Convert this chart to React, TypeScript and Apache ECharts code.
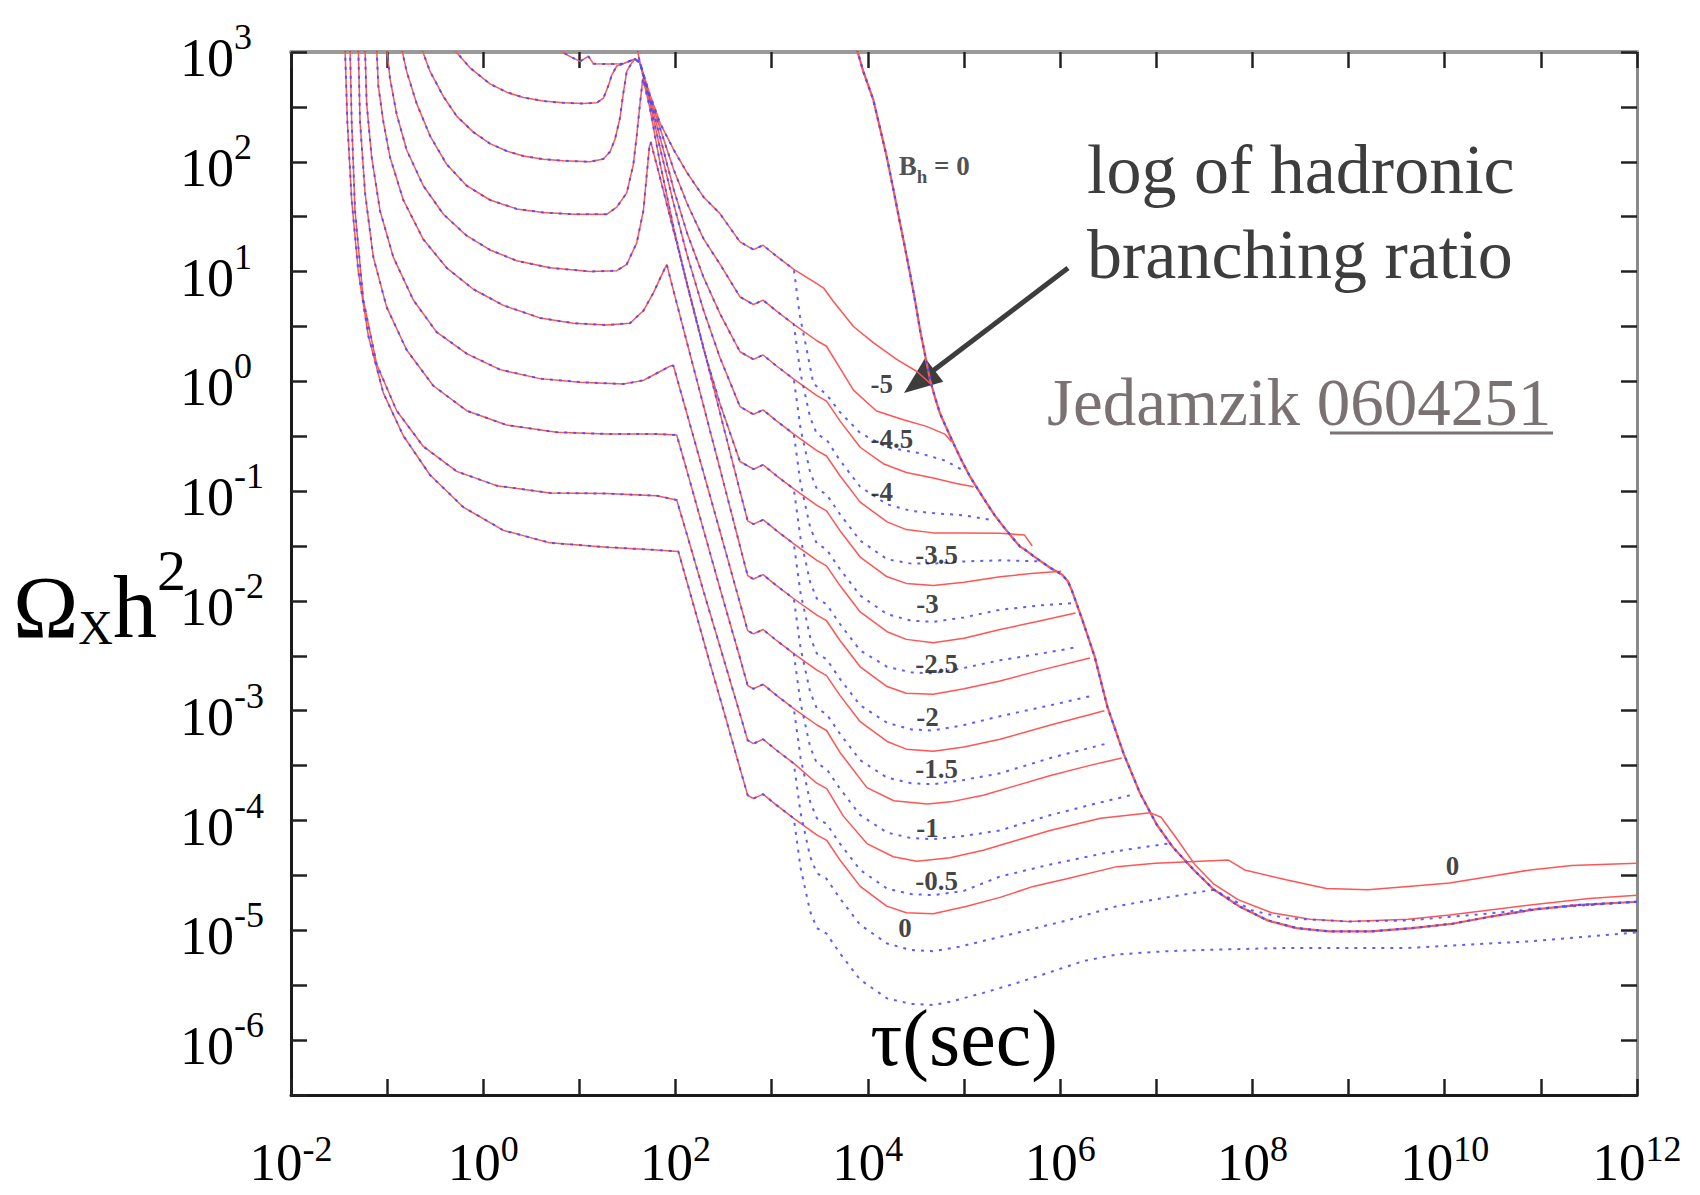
import React, { useEffect, useRef } from 'react';
import * as echarts from 'echarts';

// All curve data are [log10(tau / sec), log10(Omega_x h^2)] pairs.

// ---- B_h = 0 curve (upper envelope) ----
const envelopeBh0: number[][] = [
  [3.884, 3.03], [3.95, 2.83], [4.057, 2.563], [4.12, 2.33], [4.196, 2.047], [4.265, 1.75], [4.335, 1.44],
  [4.39, 1.2], [4.439, 0.98], [4.49, 0.74], [4.543, 0.468], [4.6, 0.22], [4.647, 0.013], [4.7, -0.15],
  [4.75, -0.291], [4.82, -0.43], [4.89, -0.564], [4.98, -0.73], [5.063, -0.868], [5.15, -0.99], [5.236, -1.11],
  [5.32, -1.22], [5.41, -1.323], [5.5, -1.42], [5.583, -1.505], [5.63, -1.53], [5.72, -1.59], [5.8, -1.64],
  [5.9, -1.7], [6.02, -1.76], [6.08, -1.82], [6.12, -1.9], [6.23, -2.17], [6.36, -2.51], [6.49, -2.96],
  [6.66, -3.39], [6.83, -3.75], [7.0, -4.03], [7.17, -4.24], [7.39, -4.45], [7.6, -4.63], [7.86, -4.78],
  [8.16, -4.91], [8.46, -4.98], [8.8, -5.01], [9.23, -5.01], [9.66, -4.98], [10.08, -4.94], [10.51, -4.87],
  [10.94, -4.81], [11.37, -4.77], [12.0, -4.74],
];

// ---- common part (solid and dotted coincide) for each log10 B_h ----
const sharedM50 = [[1.6, 3.03], [1.63, 2.9], [1.73, 2.62], [1.84, 2.35], [1.98, 2.11], [2.12, 1.9], [2.29, 1.68], [2.46, 1.53], [2.67, 1.27], [2.81, 1.2], [2.91, 1.24], [3.05, 1.14], [3.23, 1.02]];
const sharedM45 = [[0.763, 3.03], [0.9, 2.96], [1.006, 2.914], [1.093, 2.96], [1.145, 2.894], [1.3, 2.89], [1.457, 2.894], [1.578, 2.937], [1.63, 2.9], [1.73, 2.6], [1.84, 2.3], [1.98, 1.93], [2.12, 1.62], [2.29, 1.3], [2.46, 1.07], [2.67, 0.77], [2.81, 0.7], [2.91, 0.74], [3.05, 0.64], [3.23, 0.52]];
const sharedM40 = [[-0.311, 3.03], [-0.138, 2.856], [0.07, 2.709], [0.243, 2.634], [0.417, 2.586], [0.625, 2.553], [0.833, 2.537], [1.041, 2.53], [1.179, 2.537], [1.249, 2.579], [1.301, 2.693], [1.336, 2.79], [1.388, 2.872], [1.457, 2.894], [1.578, 2.937], [1.63, 2.9], [1.73, 2.58], [1.84, 2.22], [1.98, 1.75], [2.12, 1.35], [2.29, 0.95], [2.46, 0.62], [2.67, 0.27], [2.81, 0.2], [2.91, 0.24], [3.05, 0.14], [3.23, 0.02]];
const sharedM35 = [[-0.641, 3.03], [-0.554, 2.823], [-0.415, 2.595], [-0.277, 2.416], [-0.103, 2.27], [0.07, 2.166], [0.243, 2.098], [0.417, 2.052], [0.625, 2.023], [0.833, 2.01], [1.11, 2.0], [1.249, 2.026], [1.318, 2.091], [1.37, 2.205], [1.422, 2.4], [1.457, 2.628], [1.492, 2.823], [1.544, 2.9], [1.578, 2.937], [1.63, 2.9], [1.73, 2.55], [1.84, 2.12], [1.98, 1.62], [2.12, 1.15], [2.29, 0.65], [2.46, 0.22], [2.67, -0.23], [2.81, -0.3], [2.91, -0.26], [3.05, -0.36], [3.23, -0.48]];
const sharedM30 = [[-0.849, 3.03], [-0.797, 2.823], [-0.693, 2.53], [-0.554, 2.237], [-0.381, 1.977], [-0.173, 1.782], [0.07, 1.652], [0.347, 1.571], [0.625, 1.538], [0.937, 1.522], [1.283, 1.522], [1.388, 1.587], [1.492, 1.717], [1.561, 1.977], [1.596, 2.237], [1.63, 2.53], [1.66, 2.76], [1.73, 2.5], [1.84, 1.98], [1.98, 1.4], [2.12, 0.88], [2.29, 0.3], [2.46, -0.2], [2.67, -0.73], [2.81, -0.8], [2.91, -0.76], [3.05, -0.86], [3.23, -0.98]];
const sharedM25 = [[-1.005, 3.03], [-0.97, 2.758], [-0.901, 2.433], [-0.797, 2.107], [-0.624, 1.782], [-0.415, 1.522], [-0.173, 1.327], [0.07, 1.197], [0.347, 1.099], [0.694, 1.034], [1.11, 1.001], [1.388, 1.008], [1.492, 1.066], [1.596, 1.262], [1.665, 1.554], [1.7, 1.88], [1.728, 2.14], [1.742, 2.18], [1.84, 1.85], [1.98, 1.37], [2.12, 0.89], [2.29, 0.31], [2.46, -0.28], [2.67, -1.0], [2.75, -1.27], [2.81, -1.3], [2.91, -1.26], [3.05, -1.36], [3.23, -1.48]];
const sharedM20 = [[-1.109, 3.03], [-1.092, 2.693], [-1.04, 2.368], [-0.97, 2.042], [-0.832, 1.652], [-0.624, 1.294], [-0.381, 1.034], [-0.103, 0.839], [0.209, 0.692], [0.59, 0.578], [0.937, 0.53], [1.283, 0.513], [1.526, 0.53], [1.665, 0.643], [1.769, 0.806], [1.838, 0.936], [1.908, 1.066], [1.98, 0.82], [2.12, 0.35], [2.29, -0.22], [2.46, -0.79], [2.67, -1.5], [2.75, -1.77], [2.81, -1.8], [2.91, -1.76], [3.05, -1.86], [3.23, -1.98]];
const sharedM15 = [[-1.23, 3.03], [-1.213, 2.53], [-1.161, 2.042], [-1.074, 1.554], [-0.936, 1.132], [-0.728, 0.741], [-0.485, 0.448], [-0.173, 0.253], [0.174, 0.107], [0.59, 0.025], [1.006, -0.007], [1.457, -0.024], [1.665, 0.009], [1.804, 0.074], [1.943, 0.139], [1.977, 0.145], [2.12, -0.3], [2.29, -0.83], [2.46, -1.36], [2.67, -2.02], [2.75, -2.27], [2.81, -2.3], [2.91, -2.26], [3.05, -2.36], [3.23, -2.48]];
const sharedM10 = [[-1.3, 3.03], [-1.282, 2.368], [-1.23, 1.717], [-1.144, 1.132], [-1.005, 0.676], [-0.797, 0.286], [-0.52, -0.04], [-0.173, -0.267], [0.243, -0.398], [0.763, -0.463], [1.283, -0.479], [1.804, -0.479], [2.012, -0.489], [2.12, -0.82], [2.29, -1.35], [2.46, -1.88], [2.67, -2.52], [2.75, -2.77], [2.81, -2.8], [2.91, -2.76], [3.05, -2.86], [3.23, -2.98]];
const sharedM05 = [[-1.386, 3.03], [-1.369, 2.368], [-1.334, 1.554], [-1.248, 0.741], [-1.109, 0.156], [-0.901, -0.267], [-0.624, -0.593], [-0.277, -0.82], [0.139, -0.95], [0.694, -1.016], [1.283, -1.022], [1.804, -1.042], [2.012, -1.081], [2.12, -1.4], [2.29, -1.91], [2.46, -2.41], [2.67, -3.03], [2.75, -3.27], [2.81, -3.3], [2.91, -3.26], [3.05, -3.36], [3.23, -3.48]];
const shared00 = [[-1.438, 3.03], [-1.414, 2.368], [-1.369, 1.652], [-1.3, 1.001], [-1.196, 0.416], [-1.04, -0.105], [-0.832, -0.495], [-0.554, -0.853], [-0.207, -1.146], [0.209, -1.357], [0.694, -1.471], [1.283, -1.51], [1.804, -1.536], [2.029, -1.55], [2.22, -2.14], [2.358, -2.57], [2.497, -2.99], [2.6, -3.31], [2.75, -3.77], [2.81, -3.8], [2.91, -3.76], [3.05, -3.86], [3.23, -3.98]];

// ---- solid (red) continuation ----
const redTailM50 = [[3.47, 0.89], [3.54, 0.85], [3.64, 0.73], [3.85, 0.5], [4.06, 0.35], [4.3, 0.2], [4.51, 0.09], [4.65, -0.02]];
const redTailM45 = [[3.47, 0.37], [3.57, 0.32], [3.71, 0.12], [3.85, -0.08], [4.09, -0.27], [4.37, -0.35], [4.61, -0.41], [4.8, -0.48], [4.87, -0.55]];
const redTailM40 = [[3.47, -0.13], [3.57, -0.18], [3.71, -0.36], [3.92, -0.6], [4.16, -0.75], [4.4, -0.83], [4.68, -0.88], [4.92, -0.93], [5.1, -0.96]];
const redTailM35 = [[3.47, -0.63], [3.57, -0.68], [3.71, -0.86], [3.92, -1.1], [4.2, -1.28], [4.4, -1.35], [4.68, -1.38], [5.0, -1.38], [5.375, -1.384], [5.63, -1.4], [5.71, -1.5]];
const redTailM30 = [[3.47, -1.13], [3.57, -1.18], [3.71, -1.36], [3.92, -1.6], [4.2, -1.78], [4.4, -1.84], [4.68, -1.86], [5.0, -1.83], [5.375, -1.78], [5.7, -1.75], [6.01, -1.73]];
const redTailM25 = [[3.47, -1.63], [3.57, -1.68], [3.71, -1.86], [3.92, -2.1], [4.2, -2.28], [4.4, -2.35], [4.68, -2.38], [5.0, -2.34], [5.375, -2.26], [5.75, -2.19], [6.16, -2.11]];
const redTailM20 = [[3.47, -2.13], [3.57, -2.18], [3.71, -2.36], [3.92, -2.6], [4.2, -2.78], [4.4, -2.84], [4.68, -2.85], [5.0, -2.8], [5.375, -2.73], [5.8, -2.63], [6.31, -2.52]];
const redTailM15 = [[3.47, -2.63], [3.57, -2.68], [3.71, -2.86], [3.92, -3.1], [4.2, -3.28], [4.4, -3.35], [4.68, -3.37], [5.0, -3.33], [5.375, -3.26], [5.9, -3.13], [6.46, -3.0]];
const redTailM10 = [[3.47, -3.13], [3.57, -3.18], [3.71, -3.38], [3.99, -3.7], [4.27, -3.82], [4.62, -3.85], [4.86, -3.83], [5.2, -3.77], [5.55, -3.68], [5.9, -3.59], [6.3, -3.5], [6.64, -3.43]];
const redTailM05 = [[3.468, -3.66], [3.572, -3.71], [3.745, -3.96], [3.99, -4.21], [4.265, -4.33], [4.51, -4.37], [4.855, -4.34], [5.2, -4.27], [5.55, -4.18], [5.895, -4.09], [6.42, -3.98], [6.94, -3.93], [7.05, -3.97], [7.2, -4.15], [7.4, -4.4], [7.6, -4.58], [7.85, -4.72], [8.2, -4.84], [8.6, -4.9], [9.0, -4.92], [9.62, -4.9], [10.05, -4.86], [10.89, -4.77], [11.5, -4.71], [12.0, -4.68]];
const redTail00 = [[3.468, -4.13], [3.572, -4.18], [3.71, -4.36], [3.92, -4.6], [4.196, -4.78], [4.4, -4.84], [4.68, -4.85], [5.03, -4.78], [5.375, -4.7], [5.72, -4.6], [6.07, -4.53], [6.59, -4.42], [6.99, -4.39], [7.75, -4.36], [7.92, -4.45], [8.35, -4.54], [8.77, -4.62], [9.2, -4.63], [9.62, -4.6], [10.05, -4.57], [10.47, -4.51], [10.89, -4.45], [11.32, -4.41], [12.0, -4.39]];

// ---- dotted (blue) continuation ----
const blueTailM50 = [[3.294, 0.59], [3.364, 0.29], [3.433, -0.02], [3.57, -0.12], [3.71, -0.28], [3.92, -0.47], [4.2, -0.6], [4.54, -0.655], [4.8, -0.72], [4.99, -0.81]];
const blueTailM45 = [[3.3, 0.07], [3.4, -0.33], [3.47, -0.48], [3.57, -0.53], [3.71, -0.72], [3.92, -0.96], [4.2, -1.12], [4.45, -1.18], [4.68, -1.2], [5.0, -1.22], [5.27, -1.26]];
const blueTailM40 = [[3.3, -0.43], [3.4, -0.83], [3.47, -0.98], [3.57, -1.03], [3.71, -1.21], [3.92, -1.45], [4.2, -1.62], [4.45, -1.66], [4.68, -1.66], [5.0, -1.64], [5.375, -1.63], [5.8, -1.64]];
const blueTailM35 = [[3.3, -0.93], [3.4, -1.33], [3.47, -1.48], [3.57, -1.53], [3.71, -1.71], [3.92, -1.95], [4.2, -2.12], [4.45, -2.18], [4.68, -2.19], [5.0, -2.15], [5.375, -2.08], [5.8, -2.04], [6.14, -2.02]];
const blueTailM30 = [[3.3, -1.43], [3.4, -1.83], [3.47, -1.98], [3.57, -2.03], [3.71, -2.21], [3.92, -2.45], [4.2, -2.6], [4.45, -2.65], [4.68, -2.66], [5.0, -2.61], [5.375, -2.54], [5.8, -2.48], [6.18, -2.42]];
const blueTailM25 = [[3.3, -1.93], [3.4, -2.33], [3.47, -2.48], [3.57, -2.53], [3.71, -2.71], [3.92, -2.95], [4.2, -3.11], [4.45, -3.17], [4.68, -3.18], [5.0, -3.13], [5.375, -3.05], [5.9, -2.95], [6.35, -2.86]];
const blueTailM20 = [[3.3, -2.43], [3.4, -2.83], [3.47, -2.98], [3.57, -3.03], [3.71, -3.21], [3.92, -3.45], [4.2, -3.61], [4.45, -3.66], [4.68, -3.67], [5.0, -3.63], [5.375, -3.57], [5.9, -3.43], [6.48, -3.3]];
const blueTailM15 = [[3.3, -2.93], [3.4, -3.33], [3.47, -3.48], [3.57, -3.53], [3.71, -3.71], [3.92, -3.95], [4.2, -4.11], [4.45, -4.16], [4.68, -4.17], [5.0, -4.14], [5.375, -4.09], [5.9, -3.95], [6.35, -3.85], [6.73, -3.77]];
const blueTailM10 = [[3.3, -3.43], [3.4, -3.83], [3.47, -3.98], [3.57, -4.03], [3.71, -4.21], [3.92, -4.45], [4.2, -4.62], [4.45, -4.67], [4.68, -4.68], [5.0, -4.64], [5.375, -4.51], [5.9, -4.4], [6.5, -4.29], [7.12, -4.21]];
const blueTailM05 = [[3.3, -3.93], [3.4, -4.33], [3.47, -4.48], [3.57, -4.53], [3.71, -4.71], [3.92, -4.95], [4.2, -5.12], [4.45, -5.18], [4.68, -5.19], [4.95, -5.15], [5.375, -5.06], [6.07, -4.91], [6.59, -4.78], [7.11, -4.7], [7.6, -4.63], [8.0, -4.82], [8.35, -4.89], [9.0, -4.92], [9.62, -4.91], [10.3, -4.86], [11.0, -4.8], [12.0, -4.74]];
const blueTail00 = [[3.3, -4.43], [3.4, -4.83], [3.47, -4.98], [3.57, -5.03], [3.71, -5.21], [3.92, -5.45], [4.2, -5.62], [4.45, -5.67], [4.68, -5.68], [4.86, -5.65], [5.2, -5.57], [5.55, -5.48], [5.9, -5.38], [6.24, -5.28], [6.59, -5.22], [7.11, -5.19], [7.46, -5.18], [8.35, -5.16], [9.62, -5.16], [10.89, -5.1], [12.0, -5.02]];

const logBh = ['-5', '-4.5', '-4', '-3.5', '-3', '-2.5', '-2', '-1.5', '-1', '-0.5', '0'];
const sharedParts = [sharedM50, sharedM45, sharedM40, sharedM35, sharedM30, sharedM25, sharedM20, sharedM15, sharedM10, sharedM05, shared00];
const redTails = [redTailM50, redTailM45, redTailM40, redTailM35, redTailM30, redTailM25, redTailM20, redTailM15, redTailM10, redTailM05, redTail00];
const blueTails = [blueTailM50, blueTailM45, blueTailM40, blueTailM35, blueTailM30, blueTailM25, blueTailM20, blueTailM15, blueTailM10, blueTailM05, blueTail00];

// curve labels (log10 B_h) and their positions
const curveLabelText = ['-5', '-4.5', '-4', '-3.5', '-3', '-2.5', '-2', '-1.5', '-1', '-0.5', '0', '0'];
const curveLabelX = [4.145, 4.25, 4.145, 4.716, 4.62, 4.716, 4.62, 4.716, 4.62, 4.716, 4.386, 10.08];
const curveLabelY = [-0.025, -0.525, -1.005, -1.586, -2.03, -2.574, -3.06, -3.53, -4.067, -4.554, -4.976, -4.41];

// axes
const xMin = -2, xMax = 12, xStep = 1;
const yMin = -6.5, yMax = 3, yStep = 0.5;

const FONT = '"Liberation Serif", "Times New Roman", Times, serif';
const RED = '#ff5555';
const BLUE = '#4b4bff';

const yRich = {
  b: { fontSize: 54, fontFamily: FONT, color: '#000', lineHeight: 66, verticalAlign: 'bottom' },
  s: { fontSize: 36, fontFamily: FONT, color: '#000', lineHeight: 66, verticalAlign: 'top' },
};
const xRich = {
  b: { fontSize: 53, fontFamily: FONT, color: '#000', lineHeight: 57, verticalAlign: 'bottom' },
  s: { fontSize: 36, fontFamily: FONT, color: '#000', lineHeight: 57, verticalAlign: 'top' },
};

function powLabel(v: number, every: number): string {
  const r = Math.round(v);
  if (Math.abs(v - r) > 1e-6) return '';
  if (((r % every) + every) % every !== 0) return '';
  return `{b|10}{s|${r}}`;
}

function buildOption() {
  const series: any[] = [];
  sharedParts.forEach((sh, i) => {
    series.push({
      type: 'line', name: `solid log Bh=${logBh[i]}`, data: [...sh, ...redTails[i]],
      showSymbol: false, silent: true, z: 2,
      lineStyle: { color: RED, width: 1.5 },
    });
  });
  series.push({
    type: 'line', name: 'solid Bh=0', data: envelopeBh0, showSymbol: false, silent: true, z: 2,
    lineStyle: { color: RED, width: 2.2 },
  });
  sharedParts.forEach((sh, i) => {
    series.push({
      type: 'line', name: `dotted log Bh=${logBh[i]}`, data: [...sh, ...blueTails[i]],
      showSymbol: false, silent: true, z: 3,
      lineStyle: { color: BLUE, width: 2, type: [3, 6], opacity: 0.9 },
    });
  });
  series.push({
    type: 'line', name: 'dotted Bh=0', data: envelopeBh0, showSymbol: false, silent: true, z: 3,
    lineStyle: { color: BLUE, width: 2.2, type: [3, 5] },
  });
  series.push({
    type: 'scatter', name: 'labels', symbolSize: 0, silent: true, z: 5,
    data: curveLabelText.map((t, i) => ({ name: t, value: [curveLabelX[i], curveLabelY[i]] })),
    label: {
      show: true, position: 'inside', formatter: '{b}',
      fontFamily: FONT, fontSize: 27, fontWeight: 'bold', color: '#111',
    },
  });
  series.push({
    type: 'scatter', name: 'Bh label', symbolSize: 0, silent: true, z: 5,
    data: [{ name: 'Bh=0', value: [4.69, 1.98] }],
    label: {
      show: true, position: 'inside', formatter: '{m|B}{s|h}{m| = 0}',
      rich: {
        m: { fontFamily: FONT, fontSize: 27, fontWeight: 'bold', color: '#222', verticalAlign: 'bottom', lineHeight: 32 },
        s: { fontFamily: FONT, fontSize: 19, fontWeight: 'bold', color: '#222', verticalAlign: 'bottom', lineHeight: 32, padding: [0, 0, -6, 0] },
      },
    },
  });

  const tick = { inside: true, length: 16, lineStyle: { color: '#222', width: 2.5 } };

  return {
    animation: false,
    backgroundColor: '#fff',
    grid: { left: 291, top: 52, right: 63, bottom: 100, containLabel: false },
    xAxis: [
      {
        type: 'value', position: 'bottom', min: xMin, max: xMax, interval: xStep,
        axisLine: { onZero: false, lineStyle: { color: '#1a1a1a', width: 3 } },
        axisTick: tick, splitLine: { show: false },
        axisLabel: { margin: 36, formatter: (v: number) => powLabel(v, 2), rich: xRich, showMinLabel: true, showMaxLabel: true },
        name: 'τ(sec)', nameLocation: 'middle', nameGap: -57, nameMoveOverlap: false,
        nameTextStyle: { fontFamily: FONT, fontSize: 80, color: '#000', verticalAlign: 'middle', align: 'center' },
      },
      {
        type: 'value', position: 'top', min: xMin, max: xMax, interval: xStep,
        axisLine: { onZero: false, lineStyle: { color: '#9a9a9a', width: 4 } },
        axisTick: tick, axisLabel: { show: false }, splitLine: { show: false },
      },
    ],
    yAxis: [
      {
        type: 'value', position: 'left', min: yMin, max: yMax, interval: yStep,
        axisLine: { onZero: false, lineStyle: { color: '#1a1a1a', width: 3 } },
        axisTick: tick, splitLine: { show: false },
        axisLabel: { margin: 111, align: 'left', formatter: (v: number) => powLabel(v, 1), rich: yRich, showMinLabel: true, showMaxLabel: true },
        name: '{o|Ω}{x|X}{o|h}{t|2}', nameLocation: 'middle', nameRotate: 0, nameGap: 105, nameMoveOverlap: false,
        nameTextStyle: {
          align: 'right', verticalAlign: 'middle', padding: [46, 0, 0, 0],
          rich: {
            o: { fontFamily: FONT, fontSize: 88, color: '#000', lineHeight: 110, verticalAlign: 'bottom' },
            x: { fontFamily: FONT, fontSize: 48, color: '#000', lineHeight: 110, verticalAlign: 'bottom' },
            t: { fontFamily: FONT, fontSize: 58, color: '#000', lineHeight: 110, verticalAlign: 'top' },
          },
        },
      },
      {
        type: 'value', position: 'right', min: yMin, max: yMax, interval: yStep,
        axisLine: { onZero: false, lineStyle: { color: '#8a8a8a', width: 3 } },
        axisTick: tick, axisLabel: { show: false }, splitLine: { show: false },
      },
    ],
    graphic: [
      { type: 'text', x: 1087, y: 169, style: { text: 'log of hadronic', fontFamily: FONT, fontSize: 70, fill: '#3d3d3d', align: 'left', verticalAlign: 'middle' } },
      { type: 'text', x: 1087, y: 254, style: { text: 'branching ratio', fontFamily: FONT, fontSize: 70, fill: '#3d3d3d', align: 'left', verticalAlign: 'middle' } },
      { type: 'text', x: 1047, y: 402, style: { text: 'Jedamzik 0604251', fontFamily: FONT, fontSize: 67, fill: '#7a7272', align: 'left', verticalAlign: 'middle' } },
      { type: 'line', shape: { x1: 1330, y1: 433, x2: 1553, y2: 433 }, style: { stroke: '#7a7272', lineWidth: 3 } },
      { type: 'line', shape: { x1: 1068, y1: 268, x2: 930, y2: 373 }, style: { stroke: '#3d3d3d', lineWidth: 5 } },
      { type: 'polygon', shape: { points: [[904, 393], [943.3, 381.8], [925.1, 358.0]] }, style: { fill: '#3d3d3d' } },
    ],
    series,
  };
}

export default function App() {
  const ref = useRef<HTMLDivElement>(null);
  useEffect(() => {
    if (!ref.current) return;
    const chart = echarts.init(ref.current, null, { renderer: 'svg' });
    chart.setOption(buildOption() as any);
    return () => chart.dispose();
  }, []);
  return (
    <div
      ref={ref}
      style={{ position: 'fixed', left: 0, top: 0, width: 1700, height: 1195, background: '#fff' }}
    />
  );
}
